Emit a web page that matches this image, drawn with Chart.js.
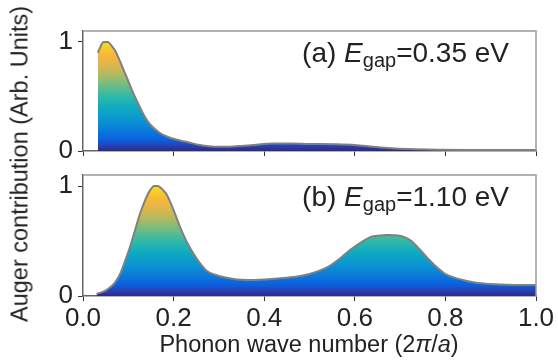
<!DOCTYPE html>
<html><head><meta charset="utf-8">
<script src="https://cdn.jsdelivr.net/npm/chart.js@4.4.1/dist/chart.umd.min.js"></script>
<style>
html,body{margin:0;padding:0;background:#fff;}
#wrap{position:relative;width:558px;height:362px;overflow:hidden;font-family:"Liberation Sans",Arial,sans-serif;color:#222;}
canvas{position:absolute;left:0;}
#c1{top:0}
#c2{top:160px}
#ytitle{position:absolute;left:20px;top:164px;transform:translate(-50%,-50%) rotate(-90deg);white-space:nowrap;font-size:23.5px;line-height:1.15;}
#xtitle{position:absolute;left:309px;top:331px;transform:translateX(-50%);white-space:nowrap;font-size:23.5px;line-height:1.15;}
</style></head>
<body><div id="wrap">
<canvas id="c2" width="558" height="202"></canvas>
<canvas id="c1" width="558" height="170"></canvas>
<div id="ytitle">Auger contribution (Arb. Units)</div>
<div id="xtitle">Phonon wave number (2<i>π</i>/<i>a</i>)</div>
</div>
<script>
// ---- data ----
const xTickValues = [0, 0.2, 0.4, 0.6, 0.8, 1.0];
const xTickLabels = ['0.0', '0.2', '0.4', '0.6', '0.8', '1.0'];
const yTickValues = [0, 1];
const yTickLabels = ['0', '1'];
const panelTags = ['a', 'b'];
const gapValues = ['0.35', '1.10'];

// panel (a): E_gap = 0.35 eV
const qA = [0.033, 0.040, 0.045, 0.055, 0.062, 0.071, 0.080, 0.090, 0.100, 0.110, 0.120, 0.133, 0.145, 0.155, 0.170, 0.185, 0.200, 0.214, 0.230, 0.258, 0.290, 0.325, 0.370, 0.420, 0.460, 0.500, 0.560, 0.600, 0.640, 0.680, 0.720, 0.780, 0.850, 0.920, 1.000];
const contribA = [0.90, 0.97, 1.00, 1.00, 0.97, 0.92, 0.84, 0.74, 0.64, 0.54, 0.45, 0.34, 0.26, 0.215, 0.165, 0.133, 0.112, 0.097, 0.082, 0.055, 0.040, 0.040, 0.052, 0.068, 0.068, 0.064, 0.062, 0.056, 0.040, 0.026, 0.018, 0.012, 0.010, 0.010, 0.010];

// panel (b): E_gap = 1.10 eV
const qB = [0.030, 0.045, 0.060, 0.070, 0.082, 0.093, 0.104, 0.115, 0.126, 0.137, 0.148, 0.157, 0.165, 0.175, 0.185, 0.200, 0.214, 0.228, 0.243, 0.258, 0.273, 0.290, 0.317, 0.360, 0.400, 0.430, 0.470, 0.500, 0.525, 0.545, 0.570, 0.590, 0.615, 0.634, 0.655, 0.670, 0.690, 0.707, 0.725, 0.744, 0.762, 0.780, 0.800, 0.825, 0.850, 0.884, 0.920, 0.960, 1.000];
const contribB = [0.02, 0.04, 0.08, 0.12, 0.20, 0.32, 0.45, 0.60, 0.75, 0.87, 0.96, 1.00, 1.00, 0.97, 0.92, 0.78, 0.63, 0.50, 0.39, 0.30, 0.23, 0.195, 0.165, 0.145, 0.15, 0.16, 0.175, 0.20, 0.235, 0.275, 0.35, 0.42, 0.49, 0.535, 0.55, 0.555, 0.553, 0.54, 0.50, 0.42, 0.34, 0.265, 0.20, 0.16, 0.135, 0.113, 0.105, 0.10, 0.10];

// ---- styling helpers ----
const FAM = '"Liberation Sans", Arial, sans-serif';
const TXT = '#222';

function parulaFill(context) {
  const chart = context.chart;
  const {ctx, chartArea, scales} = chart;
  if (!chartArea) return 'rgba(0,0,0,0)';
  const y0 = scales.y.getPixelForValue(0);
  const y1 = scales.y.getPixelForValue(1);
  const g = ctx.createLinearGradient(0, y0, 0, y1);
  g.addColorStop(0.00, '#2e2a80');
  g.addColorStop(0.04, '#2a3cae');
  g.addColorStop(0.10, '#0c5fe0');
  g.addColorStop(0.20, '#0b7ed8');
  g.addColorStop(0.30, '#0a98d0');
  g.addColorStop(0.40, '#10abc0');
  g.addColorStop(0.50, '#2fb9a8');
  g.addColorStop(0.60, '#6cbd85');
  g.addColorStop(0.70, '#b0ba62');
  g.addColorStop(0.80, '#e2b64c');
  g.addColorStop(0.88, '#f7b73a');
  g.addColorStop(1.00, '#f6e01c');
  return g;
}

const labelPlugin = {
  id: 'panelLabel',
  afterDraw(chart, args, opts) {
    const {ctx, chartArea} = chart;
    const parts = [
      {t: '(' + opts.tag + ') ', f: '28px ' + FAM, dy: 0},
      {t: 'E', f: 'italic 28px ' + FAM, dy: 0},
      {t: 'gap', f: '20px ' + FAM, dy: 5},
      {t: '=' + opts.value + ' eV', f: '28px ' + FAM, dy: 0}
    ];
    ctx.save();
    ctx.fillStyle = TXT;
    ctx.textBaseline = 'alphabetic';
    ctx.textAlign = 'left';
    let w = 0;
    parts.forEach(p => { ctx.font = p.f; p.w = ctx.measureText(p.t).width; w += p.w; });
    let x = chartArea.right - 27 - w;
    const y = chartArea.top + 30.5;
    parts.forEach(p => { ctx.font = p.f; ctx.fillText(p.t, x, y + p.dy); x += p.w; });
    ctx.restore();
  }
};

const framePlugin = {
  id: 'frame',
  afterDraw(chart) {
    const {ctx, chartArea: a} = chart;
    ctx.save();
    ctx.strokeStyle = '#999';
    ctx.lineWidth = 1.5;
    ctx.beginPath();
    ctx.moveTo(a.left, a.top);
    ctx.lineTo(a.right, a.top);
    ctx.lineTo(a.right, a.bottom);
    ctx.stroke();
    ctx.restore();
  }
};

function makeChart(id, q, v, idx, showXLabels, padTop, xAxisH) {
  return new Chart(document.getElementById(id), {
    type: 'line',
    data: {
      datasets: [{
        data: q.map((x, i) => ({x: x, y: v[i]})),
        borderColor: '#808080',
        borderWidth: 2,
        fill: 'origin',
        backgroundColor: parulaFill,
        pointRadius: 0,
        cubicInterpolationMode: 'monotone'
      }]
    },
    options: {
      responsive: false,
      animation: false,
      devicePixelRatio: 1,
      events: [],
      layout: {padding: {left: 0, right: 22, top: padTop, bottom: 0}},
      plugins: {
        legend: {display: false},
        tooltip: {enabled: false},
        panelLabel: {tag: panelTags[idx], value: gapValues[idx]}
      },
      scales: {
        x: {
          type: 'linear', min: 0, max: 1,
          afterBuildTicks(s) { s.ticks = xTickValues.map(value => ({value})); },
          afterFit(s) { s.height = xAxisH; s.paddingLeft = 0; s.paddingRight = 0; },
          ticks: {display: showXLabels, autoSkip: false, maxRotation: 0, padding: 2, color: TXT,
                  font: {family: FAM, size: 26}, callback: (val, i) => xTickLabels[i]},
          grid: {display: true, drawOnChartArea: false, drawTicks: true, tickLength: 5, color: '#333', tickWidth: 1},
          border: {display: true, color: '#666', width: 1.5}
        },
        y: {
          min: 0, max: 1.1,
          afterBuildTicks(s) { s.ticks = yTickValues.map(value => ({value})); },
          afterFit(s) { s.width = 83; s.paddingTop = 0; s.paddingBottom = 0; },
          ticks: {padding: 5, color: TXT, font: {family: FAM, size: 26}, callback: (val, i) => yTickLabels[i]},
          grid: {display: true, drawOnChartArea: false, drawTicks: true, tickLength: 5, color: '#333', tickWidth: 1},
          border: {display: true, color: '#666', width: 1.5}
        }
      }
    },
    plugins: [labelPlugin, framePlugin]
  });
}

makeChart('c1', qA, contribA, 0, false, 31, 19);
makeChart('c2', qB, contribB, 1, true, 15, 66);
</script>
</body></html>
